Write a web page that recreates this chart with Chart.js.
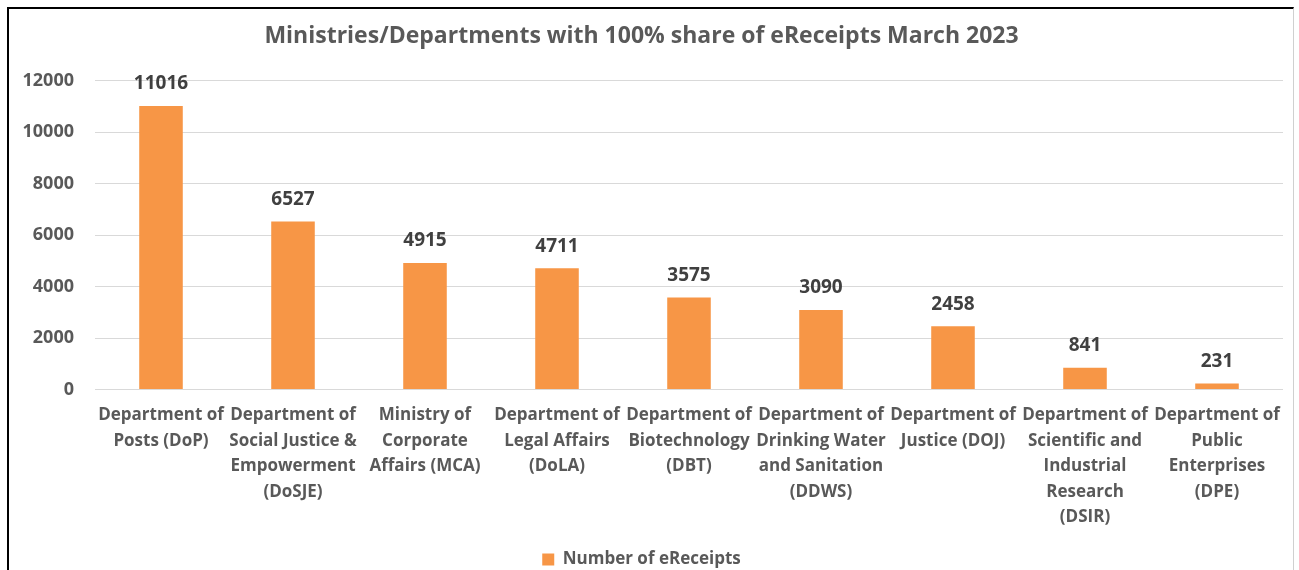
<!DOCTYPE html>
<html lang="en">
<head>
  <meta charset="UTF-8">
  <title>eReceipts March 2023</title>
  <script src="https://cdn.jsdelivr.net/npm/chart.js"></script>
  <style>
    html,body{margin:0;padding:0;background:#fff;}
    .wrap{position:relative;width:1299px;height:570px;overflow:hidden;}
    .frame{position:absolute;left:7px;top:7px;width:1284px;height:600px;
      border-left:2px solid #000;border-top:2px solid #000;border-right:1px solid #d0d0d0;}
    canvas{position:absolute;left:0;top:0;}
  </style>
</head>
<body>
<div class="wrap">
  <div class="frame"></div>
  <canvas id="chart" width="1299" height="578"></canvas>
</div>
<script>
  // ---- data ----
  const categories = [
    ['Department of', 'Posts (DoP)'],
    ['Department of', 'Social Justice &', 'Empowerment', '(DoSJE)'],
    ['Ministry of', 'Corporate', 'Affairs (MCA)'],
    ['Department of', 'Legal Affairs', '(DoLA)'],
    ['Department of', 'Biotechnology', '(DBT)'],
    ['Department of', 'Drinking Water', 'and Sanitation', '(DDWS)'],
    ['Department of', 'Justice (DOJ)'],
    ['Department of', 'Scientific and', 'Industrial', 'Research', '(DSIR)'],
    ['Department of', 'Public', 'Enterprises', '(DPE)']
  ];
  const eReceipts = [11016, 6527, 4915, 4711, 3575, 3090, 2458, 841, 231];
  const yTicks = [0, 2000, 4000, 6000, 8000, 10000, 12000];

  const FONT = '"Open Sans", sans-serif';
  const GREY = '#595959';

  // value labels above bars
  const barLabels = {
    id: 'barLabels',
    afterDatasetsDraw(chart) {
      const ctx = chart.ctx;
      const meta = chart.getDatasetMeta(0);
      ctx.save();
      ctx.font = 'bold 19px ' + FONT;
      ctx.fillStyle = '#404040';
      ctx.textAlign = 'center';
      ctx.textBaseline = 'middle';
      meta.data.forEach((bar, i) => {
        ctx.fillText(String(eReceipts[i]), bar.x, bar.y - 22);
      });
      ctx.restore();
    }
  };

  new Chart(document.getElementById('chart'), {
    type: 'bar',
    data: {
      labels: categories,
      datasets: [{
        label: 'Number of eReceipts',
        data: eReceipts,
        backgroundColor: '#F79646',
        borderWidth: 0,
        categoryPercentage: 1,
        barPercentage: 0.33
      }]
    },
    options: {
      responsive: false,
      animation: false,
      layout: {padding: {top: 10, right: 16, left: 0, bottom: 0}},
      plugins: {
        title: {
          display: true,
          text: 'Ministries/Departments with 100% share of eReceipts March 2023',
          color: GREY,
          font: {family: FONT, size: 23, weight: 'bold'},
          padding: {top: 13, bottom: 30}
        },
        legend: {
          position: 'bottom',
          labels: {
            color: GREY,
            font: {family: FONT, size: 17, weight: 'bold'},
            boxWidth: 12, boxHeight: 12,
            padding: 2
          }
        },
        tooltip: {enabled: false}
      },
      scales: {
        x: {
          afterFit(scale) { scale.height += 14; },
          grid: {display: false},
          border: {display: false},
          ticks: {
            color: GREY,
            font: {family: FONT, size: 17, weight: 'bold', lineHeight: 1.5},
            padding: 5,
            maxRotation: 0,
            autoSkip: false
          }
        },
        y: {
          min: 0, max: 12000,
          afterBuildTicks(scale) { scale.ticks = yTicks.map(v => ({value: v})); },
          afterFit(scale) { scale.width = 95; },
          grid: {color: '#d9d9d9', drawTicks: false},
          border: {display: false},
          ticks: {
            color: GREY,
            font: {family: FONT, size: 18, weight: 'bold'},
            padding: 21,
            callback: v => String(v)
          }
        }
      }
    },
    plugins: [barLabels]
  });
</script>
</body>
</html>
